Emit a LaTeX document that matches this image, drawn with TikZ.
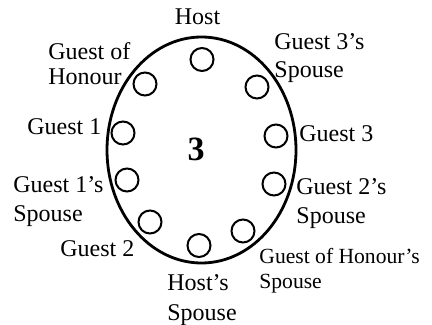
\documentclass[tikz,border=0pt]{standalone}
\usepackage{fontspec}
\setmainfont{Liberation Serif}
\usepackage{tikz}
\usetikzlibrary{positioning}

\begin{document}
\begin{tikzpicture}[
  x=0.5pt, y=-0.5pt,
  seat/.style={draw,circle,line width=1pt,minimum size=11.5pt,inner sep=0pt},
  lbl/.style={inner sep=0pt,anchor=base west,align=left,font=\fontsize{12}{14}\selectfont},
  small/.style={lbl,font=\fontsize{10.8}{12.5}\selectfont},
  tablenum/.style={inner sep=0pt,font=\fontsize{17}{17}\selectfont\bfseries}
]
\useasboundingbox (0,0) rectangle (432,325);
% the table
\draw[line width=1.4pt] (201.5,150) ellipse [x radius=47.25pt, y radius=56.5pt];
\node[tablenum] (table) at (196,149) {3};
% seats
\node[seat] (host) at (202,59.5) {};
\node[seat] (goh) at (145,84) {};
\node[seat] (guestone) at (123,133) {};
\node[seat] (guestonesp) at (127,180) {};
\node[seat] (guesttwo) at (150,222) {};
\node[seat] (hostsp) at (199,245.5) {};
\node[seat] (gohsp) at (243,231) {};
\node[seat] (guesttwosp) at (274,184) {};
\node[seat] (guestthree) at (276,136) {};
\node[seat] (guestthreesp) at (257,87) {};
% names (base = last line)
\node[lbl,anchor=base] (hostlbl) at (197.5,25) {Host};
\node[lbl,font=\fontsize{12}{12.5}\selectfont] (gohlbl) at (48,85) {Guest of\\Honour};
\node[lbl] (guestonelbl) at (27,135) {Guest 1};
\node[lbl] (guestonesplbl) at (13,221) {Guest 1’s\\Spouse};
\node[lbl] (guesttwolbl) at (60,256) {Guest 2};
\node[lbl,font=\fontsize{12}{15}\selectfont] (hostsplbl) at (167,320) {Host’s\\Spouse};
\node[small] (gohsplbl) at (259,288) {Guest of Honour’s\\Spouse};
\node[lbl] (guesttwosplbl) at (296,223) {Guest 2’s\\Spouse};
\node[lbl] (guestthreelbl) at (299,142) {Guest 3};
\node[lbl] (guestthreesplbl) at (274,78) {Guest 3’s\\Spouse};
\end{tikzpicture}
\end{document}
